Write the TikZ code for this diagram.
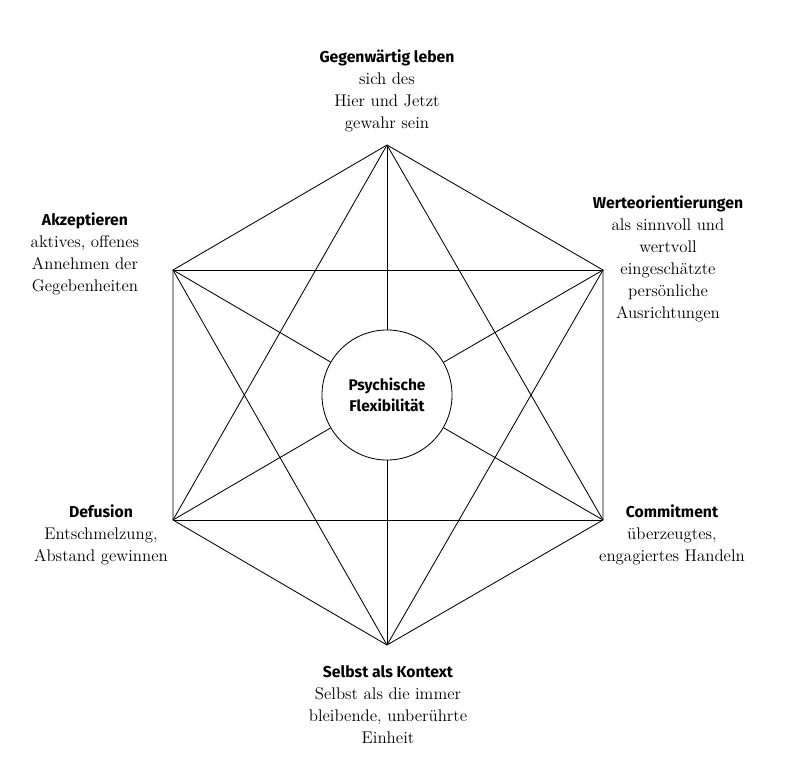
\documentclass[tikz,border=0pt]{standalone}
\usepackage{fontspec}
\usepackage{tikz}
\usetikzlibrary{positioning}
\newfontfamily\headfont{Fira Sans}
\newcommand{\hd}[1]{{\headfont\bfseries\fontsize{11.2}{15.6}\selectfont #1}}

\begin{document}
\begin{tikzpicture}[
  x=0.025cm, y=-0.025cm,
  edge/.style={line width=0.6pt, black},
  label/.style={align=center, inner sep=0pt,
    font=\fontsize{12}{15.6}\selectfont},
]
\useasboundingbox (0,0) rectangle (792,764);

% Corners of the hexagon
\coordinate (top) at (387,145);
\coordinate (ur)  at (603,270);
\coordinate (lr)  at (603,520);
\coordinate (bot) at (387,645);
\coordinate (ll)  at (173,520);
\coordinate (ul)  at (173,270);

% Centre
\node[draw, line width=0.6pt, circle, inner sep=0pt,
  minimum size=3.25cm, align=center,
  font=\headfont\bfseries\fontsize{11}{15}\selectfont] (core) at (387,395)
  {Psychische\\Flexibilität};

% Hexagon
\draw[edge] (top) -- (ur) -- (lr) -- (bot) -- (ll) -- (ul) -- cycle;

% Star lines
\foreach \a/\b in {top/lr, top/ll, bot/ur, bot/ul, ul/ur, ll/lr}
  \draw[edge] (\a) -- (\b);
% Spokes to the centre
\foreach \a in {top, ur, lr, bot, ll, ul}
  \draw[edge] (\a) -- (core);

% Labels
\node[label] (now) at (387,90.5)
  {\hd{Gegenwärtig leben}\\
   sich des\\Hier und Jetzt\\gewahr sein};
\node[label] (values) at (668,259)
  {\hd{Werteorientierungen}\\
   als sinnvoll und\\wertvoll\\eingeschätzte\\persönliche\\Ausrichtungen};
\node[label] (accept) at (85,254)
  {\hd{Akzeptieren}\\
   aktives, offenes\\Annehmen der\\Gegebenheiten};
\node[label] (defus) at (101,535)
  {\hd{Defusion}\\
   Entschmelzung,\\Abstand gewinnen};
\node[label] (commit) at (672,535)
  {\hd{Commitment}\\
   überzeugtes,\\engagiertes Handeln};
\node[label] (self) at (388,705)
  {\hd{Selbst als Kontext}\\
   Selbst als die immer\\bleibende, unberührte\\Einheit};

\end{tikzpicture}
\end{document}
